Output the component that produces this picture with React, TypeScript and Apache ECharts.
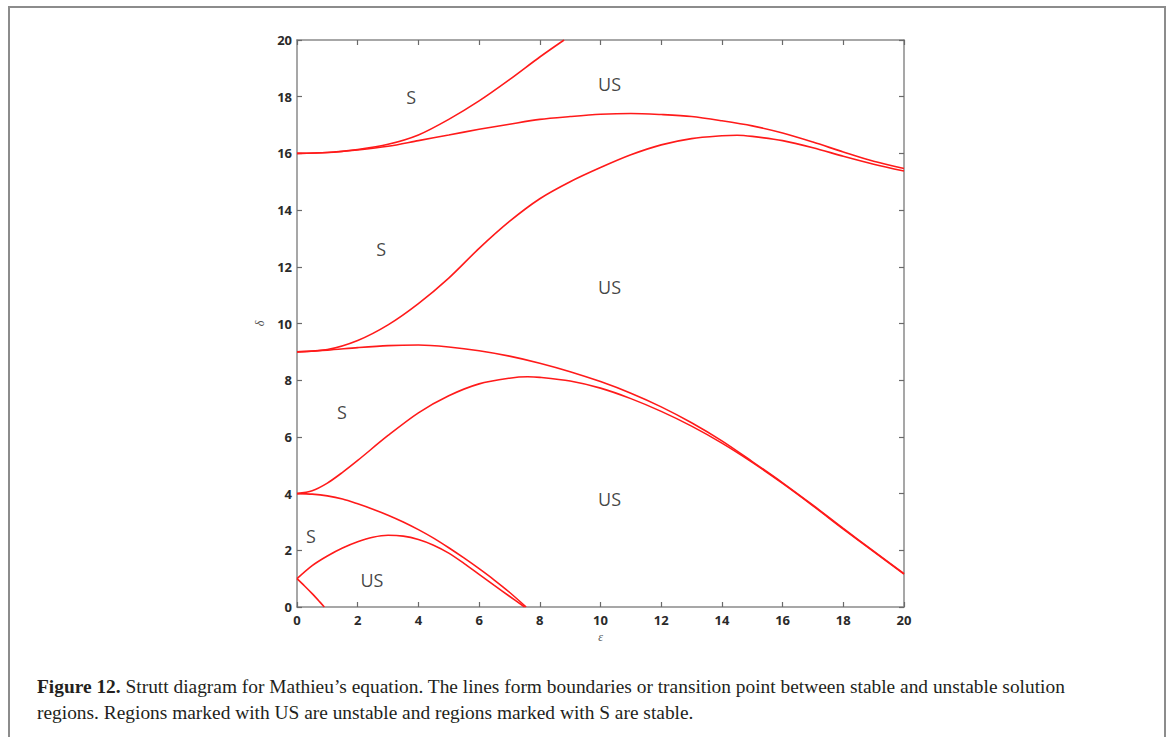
import React, { useEffect, useRef } from "react";
import * as echarts from "echarts";

// ε tick values (0..20 every 2) and δ tick values (0..20 every 2)
const xTicks = [0, 2, 4, 6, 8, 10, 12, 14, 16, 18, 20];
const yTicks = [0, 2, 4, 6, 8, 10, 12, 14, 16, 18, 20];

// Boundary curves (ε, δ)
const b1Eps = [0, 0.25, 0.5, 0.75, 0.9];
const b1Del = [1, 0.74, 0.47, 0.18, 0];

const a1Eps = [0, 0.5, 1, 1.5, 2, 2.5, 3, 3.5, 4, 4.5, 5, 5.5, 6, 6.5, 7, 7.5];
const a1Del = [1, 1.46, 1.8, 2.08, 2.3, 2.46, 2.53, 2.5, 2.38, 2.18, 1.9, 1.54, 1.15, 0.76, 0.38, 0];

const b2Eps = [0, 0.5, 1, 1.5, 2, 2.5, 3, 3.5, 4, 4.5, 5, 5.5, 6, 6.5, 7, 7.55];
const b2Del = [4, 3.98, 3.92, 3.81, 3.64, 3.45, 3.24, 3.0, 2.73, 2.43, 2.09, 1.73, 1.35, 0.95, 0.52, 0];

const a2Eps = [0, 0.5, 1, 1.5, 2, 3, 4, 5, 6, 7, 7.6, 8, 9, 10, 11, 12, 13, 14, 15, 16, 17, 18, 19, 20];
const a2Del = [4, 4.1, 4.37, 4.75, 5.17, 6.05, 6.85, 7.45, 7.87, 8.07, 8.12, 8.1, 7.97, 7.72, 7.35, 6.9, 6.38, 5.78, 5.1, 4.36, 3.57, 2.75, 1.95, 1.16];

const b3Eps = [0, 1, 2, 3, 4, 5, 6, 7, 8, 9, 10, 11, 12, 13, 14, 15, 16, 17, 18, 19, 20];
const b3Del = [9, 9.06, 9.15, 9.22, 9.24, 9.17, 9.04, 8.85, 8.6, 8.3, 7.95, 7.54, 7.06, 6.5, 5.86, 5.13, 4.38, 3.59, 2.77, 1.97, 1.18];

const a3Eps = [0, 1, 2, 3, 4, 5, 6, 7, 8, 9, 10, 11, 12, 13, 14, 14.5, 15, 16, 17, 18, 19, 20];
const a3Del = [9, 9.08, 9.4, 9.95, 10.7, 11.6, 12.65, 13.6, 14.4, 15.0, 15.5, 15.95, 16.3, 16.52, 16.62, 16.64, 16.6, 16.45, 16.2, 15.9, 15.62, 15.38];

const b4Eps = [0, 1, 2, 3, 4, 5, 6, 7, 8, 9, 10, 11, 12, 13, 14, 15, 16, 17, 18, 19, 20];
const b4Del = [16, 16.03, 16.12, 16.25, 16.45, 16.65, 16.85, 17.03, 17.2, 17.3, 17.38, 17.41, 17.37, 17.3, 17.15, 16.97, 16.72, 16.4, 16.05, 15.72, 15.47];

const a4Eps = [0, 1, 2, 3, 4, 5, 6, 7, 8, 8.8];
const a4Del = [16, 16.03, 16.14, 16.32, 16.65, 17.2, 17.85, 18.6, 19.4, 20];

// Region labels (ε, δ, text)
const regionLabels: [number, number, string][] = [
  [3.76, 18.0, "S"],
  [10.3, 18.45, "US"],
  [2.77, 12.63, "S"],
  [10.3, 11.29, "US"],
  [1.48, 6.88, "S"],
  [10.3, 3.81, "US"],
  [0.46, 2.5, "S"],
  [2.47, 0.95, "US"],
];

const captionBold = "Figure 12.";
const captionLine1 =
  " Strutt diagram for Mathieu\u2019s equation. The lines form boundaries or transition point between stable and unstable solution";
const captionLine2 =
  "regions. Regions marked with US are unstable and regions marked with S are stable.";

const curves: [number[], number[]][] = [
  [b1Eps, b1Del],
  [a1Eps, a1Del],
  [b2Eps, b2Del],
  [a2Eps, a2Del],
  [b3Eps, b3Del],
  [a3Eps, a3Del],
  [b4Eps, b4Del],
  [a4Eps, a4Del],
];

export default function App() {
  const ref = useRef<HTMLDivElement>(null);
  useEffect(() => {
    if (!ref.current) return;
    const chart = echarts.init(ref.current, null, { renderer: "svg" });
    const axisLineStyle = { color: "#8a8a8a", width: 1.5 };
    const tickStyle = { color: "#6a6a6a", width: 1.2 };
    const labelStyle = {
      fontFamily: "Open Sans",
      fontWeight: "bold" as const,
      fontSize: 13,
      color: "#2a2a2a",
    };
    const xAx = (pos: "bottom" | "top", showLabel: boolean) => ({
      type: "value",
      position: pos,
      min: xTicks[0],
      max: xTicks[xTicks.length - 1],
      interval: 2,
      axisLine: { show: true, onZero: false, lineStyle: axisLineStyle },
      axisTick: { show: true, inside: true, length: 5, lineStyle: tickStyle },
      axisLabel: { show: showLabel, margin: 6, ...labelStyle },
      splitLine: { show: false },
      ...(showLabel
        ? {
            name: "\u03B5",
            nameLocation: "middle",
            nameGap: 24,
            nameTextStyle: {
              fontFamily: "Liberation Serif",
              fontStyle: "italic",
              fontSize: 12,
              color: "#555",
            },
          }
        : {}),
    });
    const yAx = (pos: "left" | "right", showLabel: boolean) => ({
      type: "value",
      position: pos,
      min: yTicks[0],
      max: yTicks[yTicks.length - 1],
      interval: 2,
      axisLine: { show: true, onZero: false, lineStyle: axisLineStyle },
      axisTick: { show: true, inside: true, length: 5, lineStyle: tickStyle },
      axisLabel: { show: showLabel, margin: 5, ...labelStyle },
      splitLine: { show: false },
      ...(showLabel
        ? {
            name: "\u03B4",
            nameLocation: "middle",
            nameGap: 30,
            nameRotate: 90,
            nameTextStyle: {
              fontFamily: "Liberation Serif",
              fontStyle: "italic",
              fontSize: 12,
              color: "#555",
            },
          }
        : {}),
    });

    const lineSeries = curves.map(([xs, ys]) => ({
      type: "line",
      xAxisIndex: 0,
      yAxisIndex: 0,
      data: xs.map((x, i) => [x, ys[i]]),
      showSymbol: false,
      smooth: 0.3,
      lineStyle: { color: "#ff1a1a", width: 1.6 },
      silent: true,
    }));

    chart.setOption({
      animation: false,
      backgroundColor: "#ffffff",
      grid: { left: 297, top: 40, right: 264, bottom: 130, containLabel: false },
      xAxis: [xAx("bottom", true), xAx("top", false)],
      yAxis: [yAx("left", true), yAx("right", false)],
      series: [
        ...lineSeries,
        {
          type: "scatter",
          xAxisIndex: 0,
          yAxisIndex: 0,
          symbolSize: 0,
          data: regionLabels.map(([x, y, t]) => ({ value: [x, y], name: t })),
          label: {
            show: true,
            position: "inside",
            formatter: (p: any) => p.name,
            fontFamily: "Open Sans",
            fontSize: 18,
            color: "#111111",
          },
          silent: true,
        },
      ],
      graphic: [
        {
          type: "rect",
          shape: { x: 9, y: 7, width: 1156, height: 745 },
          style: { fill: "none", stroke: "#8c8c8c", lineWidth: 2 },
          silent: true,
        },
        {
          type: "text",
          x: 37,
          y: 686,
          style: {
            text: "{b|" + captionBold + "}{n|" + captionLine1 + "}",
            verticalAlign: "middle",
            rich: {
              b: { fontFamily: "Liberation Serif", fontWeight: "bold", fontSize: 19.4, fill: "#231f20" },
              n: { fontFamily: "Liberation Serif", fontSize: 19.4, fill: "#231f20" },
            },
          },
        },
        {
          type: "text",
          x: 37,
          y: 712,
          style: {
            text: captionLine2,
            verticalAlign: "middle",
            fontFamily: "Liberation Serif",
            fontSize: 19.4,
            fill: "#231f20",
          },
        },
      ],
    });
    return () => chart.dispose();
  }, []);
  return (
    <div
      ref={ref}
      style={{ position: "fixed", left: 0, top: 0, width: 1168, height: 737, background: "#fff" }}
    />
  );
}
